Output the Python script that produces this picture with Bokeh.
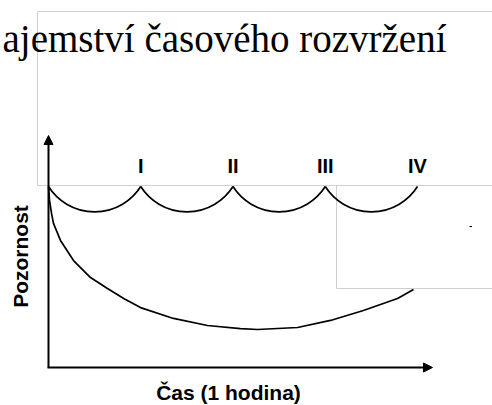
import math
from bokeh.plotting import figure
from bokeh.models import Range1d, Label, Arrow, NormalHead
from bokeh.embed import file_html
from bokeh.resources import INLINE

# ---- data -------------------------------------------------------------
title_text = "ajemství časového rozvržení"
x_label = "Čas (1 hodina)"
y_label = "Pozornost"
segment_labels = ["I", "II", "III", "IV"]
segment_bounds = [0, 15, 30, 45, 60]          # minutes
segment_peak = 100                             # attention at each restart
segment_dip = 86                               # attention low inside a segment
curve_time = [0, 0.16, 0.5, 0.81, 1.95, 4.07, 6.83, 9.59, 12.3, 14.96, 20.33,
              25.85, 31.2, 33.98, 40.5, 45.85, 51.2, 56.75, 59.35]
curve_attention = [100, 92.5, 85.0, 79.6, 70.2, 59.1, 49.7, 43.6, 38.0, 33.1,
                   27.1, 23.2, 21.5, 21.0, 22.1, 26.0, 31.5, 38.1, 43.1]

# ---- layout helpers (image pixel -> data) ------------------------------
X0, Y0 = 48.0, 367.0
XPM = (417.0 - 48.0) / 60.0
YPU = (367.0 - 186.0) / 100.0


def px2x(px):
    return (px - X0) / XPM


def px2y(py):
    return (Y0 - py) / YPU


W, H = 492, 405
p = figure(width=W, height=H, output_backend="svg", toolbar_location=None,
           x_range=Range1d(px2x(0), px2x(W)),
           y_range=Range1d(px2y(H), px2y(0)),
           min_border=0, x_axis_location=None, y_axis_location=None,
           background_fill_color="white", border_fill_color="white",
           outline_line_color=None)
p.grid.visible = False

GRAY = "#cfcfcf"
# upper frame box (outline only)
p.quad(left=px2x(37), right=px2x(530), top=px2y(11), bottom=px2y(185),
       fill_color=None, line_color=GRAY, line_width=1)

# long-lecture attention curve
p.line(curve_time, curve_attention, line_color="black", line_width=1.7)

# white box covering the end of the curve
p.quad(left=px2x(336), right=px2x(530), top=px2y(185), bottom=px2y(288),
       fill_color="white", line_color=GRAY, line_width=1)
# tiny speck inside the white box
p.segment(x0=px2x(469), y0=px2y(226), x1=px2x(471.5), y1=px2y(226),
          line_color="black", line_width=1)

# segmented attention arcs
half = (segment_bounds[1] - segment_bounds[0]) / 2 * XPM
sag = (segment_peak - segment_dip) * YPU
R = (half ** 2 + sag ** 2) / (2 * sag)
a = math.asin(half / R)
cy = segment_peak + (R - sag) / YPU
centers = [(segment_bounds[i] + segment_bounds[i + 1]) / 2 for i in range(len(segment_labels))]
p.arc(x=centers, y=[cy] * len(centers), radius=R, radius_units="screen",
      start_angle=-math.pi / 2 - a, end_angle=-math.pi / 2 + a,
      line_color="black", line_width=1.7)

# axes with arrows
p.add_layout(Arrow(end=NormalHead(size=9, fill_color="black", line_color="black", line_width=1),
                   x_start=0, y_start=0, x_end=0, y_end=px2y(135),
                   line_color="black", line_width=2))
p.add_layout(Arrow(end=NormalHead(size=9, fill_color="black", line_color="black", line_width=1),
                   x_start=px2x(47), y_start=0, x_end=px2x(432), y_end=0,
                   line_color="black", line_width=2))

# segment labels
for lab, b in zip(segment_labels, segment_bounds[1:]):
    p.add_layout(Label(x=b, y=px2y(165), text=lab, text_align="center",
                       text_baseline="alphabetic", text_font="Liberation Sans",
                       text_font_style="bold", text_font_size="20px", text_color="black"))

# axis titles
p.add_layout(Label(x=px2x(228), y=px2y(392), text=x_label, text_align="center",
                   text_baseline="alphabetic", text_font="Liberation Sans",
                   text_font_style="bold", text_font_size="21px", text_color="black"))
p.add_layout(Label(x=px2x(20), y=px2y(256), text=y_label, text_align="center",
                   text_baseline="middle", angle=math.pi / 2, text_font="Liberation Sans",
                   text_font_style="bold", text_font_size="21px", text_color="black"))

# slide title
p.add_layout(Label(x=px2x(446), y=px2y(38), text=title_text, text_align="right",
                   text_baseline="alphabetic", text_font="Liberation Serif",
                   text_font_size="39px", text_color="black"))

open("out.html", "w").write(file_html(p, INLINE))
